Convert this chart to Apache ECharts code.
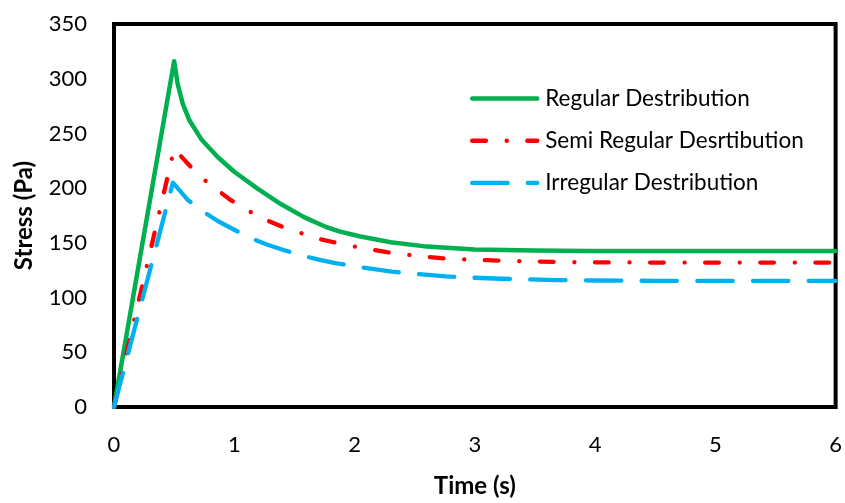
<!DOCTYPE html>
<html>
<head>
<meta charset="utf-8">
<script src="https://cdn.jsdelivr.net/npm/echarts@6/dist/echarts.min.js"></script>
<style>
  html, body { margin: 0; padding: 0; background: #fff; }
  #chart { width: 845px; height: 503px; }
</style>
</head>
<body>
<div id="chart"></div>
<script>
// Stress response over time for three particle distributions
const regularTime = [0, 0.5, 0.53, 0.572, 0.627, 0.724, 0.862, 1.0, 1.193, 1.387, 1.58, 1.763, 1.873, 2.04, 2.3, 2.57, 3.0, 3.5, 3.95, 4.5, 5.0, 5.5, 6.0];
const regularStress = [0, 316, 295, 277, 262, 245, 228.5, 215, 199.5, 185.5, 173.5, 164.5, 160.5, 156, 150.5, 147, 144, 143, 142.6, 142.5, 142.5, 142.5, 142.5];

const semiTime = [0, 0.5, 0.533, 0.62, 0.735, 0.862, 0.972, 1.105, 1.26, 1.37, 1.53, 1.69, 1.81, 1.98, 2.14, 2.27, 2.43, 2.59, 2.72, 2.89, 3.1, 3.34, 3.8, 4.5, 5.0, 5.5, 6.0];
const semiStress = [0, 236, 232, 221.6, 209, 198, 189, 180, 171, 166, 159.8, 154, 151, 147, 144, 141.5, 139.3, 137.4, 136, 135, 134.2, 133.3, 132.3, 132, 132, 132, 132];

const irregularTime = [0, 0.49, 0.503, 0.613, 0.737, 0.87, 1.0, 1.13, 1.27, 1.41, 1.575, 1.72, 1.85, 2.02, 2.31, 2.47, 2.76, 2.93, 3.22, 3.38, 3.67, 4.0, 4.5, 5.0, 5.5, 6.0];
const irregularStress = [0, 205, 204, 189.3, 178.8, 169.5, 162, 154.5, 148.5, 143.5, 138, 134.3, 131.3, 128.3, 123.8, 122, 119.3, 118.4, 117.2, 116.8, 116, 115.6, 115.3, 115.2, 115.2, 115.2];

const seriesNames = ['Regular Destribution', 'Semi Regular Desrtibution', 'Irregular Destribution'];
const seriesColors = ['#00B050', '#FF0000', '#00B0F0'];

const pairs = (xs, ys) => xs.map((x, i) => [x, ys[i]]);

const FONT = 'Lato';
const chart = echarts.init(document.getElementById('chart'), null, { renderer: 'canvas' });

chart.setOption({
  animation: false,
  backgroundColor: '#ffffff',
  grid: {
    left: 114, top: 24, right: 7, bottom: 92,
    show: true, borderColor: '#000', borderWidth: 4, backgroundColor: 'transparent'
  },
  legend: {
    orient: 'vertical',
    left: 465, top: 82,
    itemWidth: 65, itemHeight: 22, itemGap: 19.2,
    itemStyle: { color: 'rgba(0,0,0,0)', borderColor: 'rgba(0,0,0,0)', borderWidth: 0, opacity: 0 },
    lineStyle: { width: 4.4 },
    textStyle: { fontFamily: FONT, fontSize: 22.5, color: '#000', padding: [0, 0, 0, 3] },
    data: seriesNames
  },
  xAxis: {
    type: 'value', min: 0, max: 6, interval: 1,
    name: 'Time (s)', nameLocation: 'middle', nameGap: 67,
    nameTextStyle: { fontFamily: FONT, fontSize: 24, fontWeight: 'bold', color: '#000' },
    axisLine: { show: false }, axisTick: { show: false }, splitLine: { show: false },
    axisLabel: { fontFamily: FONT, fontSize: 22, color: '#000', margin: 27 }
  },
  yAxis: {
    type: 'value', min: 0, max: 350, interval: 50,
    name: 'Stress (Pa)', nameLocation: 'middle', nameGap: 78, nameRotate: 90,
    nameTextStyle: { fontFamily: FONT, fontSize: 24, fontWeight: 'bold', color: '#000' },
    axisLine: { show: false }, axisTick: { show: false }, splitLine: { show: false },
    axisLabel: { fontFamily: FONT, fontSize: 22, color: '#000', margin: 27 }
  },
  series: [
    {
      name: seriesNames[0], type: 'line', showSymbol: false, symbol: 'none',
      data: pairs(regularTime, regularStress),
      lineStyle: { color: seriesColors[0], width: 4.5, cap: 'round', join: 'round' },
      itemStyle: { color: seriesColors[0] }
    },
    {
      name: seriesNames[1], type: 'line', showSymbol: false, symbol: 'none',
      data: pairs(semiTime, semiStress),
      lineStyle: { color: seriesColors[1], width: 4.3, type: [13.7, 20.8, 0.1, 20.5], cap: 'round', join: 'round' },
      itemStyle: { color: seriesColors[1] }
    },
    {
      name: seriesNames[2], type: 'line', showSymbol: false, symbol: 'none',
      data: pairs(irregularTime, irregularStress),
      lineStyle: { color: seriesColors[2], width: 4.3, type: [35.4, 20.3], cap: 'round', join: 'round' },
      itemStyle: { color: seriesColors[2] }
    }
  ]
});
</script>
</body>
</html>
